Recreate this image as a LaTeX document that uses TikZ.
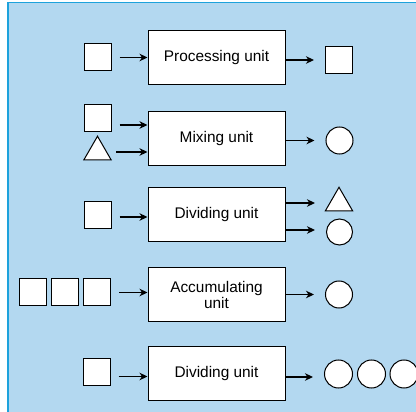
\documentclass[tikz,border=0pt]{standalone}
\usepackage{fontspec}
\setmainfont{Liberation Sans}
\usepackage{tikz}
\usetikzlibrary{
  arrows.meta,
  positioning,
  shapes.geometric,
  calc
}
\definecolor{panelbg}{HTML}{B3D8F0}
\definecolor{panelline}{HTML}{1DA2DC}
\definecolor{textdark}{HTML}{000000}
\tikzset{
  unitbox/.style={
    draw=textdark, fill=white, line width=1pt,
    minimum width=137pt, minimum height=54pt,
    inner sep=0pt, align=center,
    font=\fontsize{15.4}{16}\selectfont,
  },
  token/.style={
    draw=textdark, fill=white, line width=1pt,
    minimum size=27pt, inner sep=0pt,
  },
  ring/.style={
    circle, draw=textdark, fill=white, line width=1pt,
    minimum size=27pt, inner sep=0pt,
  },
  wedge/.style={
    regular polygon, regular polygon sides=3,
    draw=textdark, fill=white, line width=1pt,
    minimum size=31.5pt, inner sep=0pt,
  },
  flow/.style={
    -{Stealth[length=8pt,width=7.5pt,inset=2.5pt]}, line width=1.2pt,
  },
}

\begin{document}
\begin{tikzpicture}[x=1pt,y=-1pt]

  % ─── Panel ───────────────────────────────────────────────────────────
  \useasboundingbox (0,0) rectangle (416,412);
  \fill[panelbg] (7,2) rectangle (416,412);
  \draw[panelline, line width=1.5pt] (7.75,412) -- (7.75,2.75) -- (416,2.75);

  % ─── Processing unit ─────────────────────────────────────────────────
  \node[unitbox] (proc) at (216.5,58) {Processing unit};
  \node[token] (procIn) at (97.5,57.5) {};
  \node[token] (procOut) at (339,60) {};
  \draw[flow] ([xshift=8pt]procIn.east) -- (procIn.east -| proc.west);
  \draw[flow] (proc.east |- procOut) -- ([xshift=-11pt]procOut.west);

  % ─── Mixing unit ─────────────────────────────────────────────────────
  \node[unitbox] (mix) at (216.5,138.5) {Mixing unit};
  \node[token] (mixInA) at (97.5,118) {};
  \node[wedge] (mixInB) at (97.5,152) {};
  \node[ring] (mixOut) at (339.5,140.5) {};
  \coordinate (mixA) at ($(mixInA.east)+(8,7)$);
  \draw[flow] (mixA) -- (mixA -| mix.west);
  \draw[flow] (mixInB.east |- mixInB.center) ++(9,0) coordinate (mixB)
    -- (mixB -| mix.west);
  \draw[flow] (mix.east |- mixOut) -- ([xshift=-11pt]mixOut.west);

  % ─── Dividing unit (two outputs) ─────────────────────────────────────
  \node[unitbox] (divA) at (216.5,215) {Dividing unit};
  \node[token] (divAIn) at (97.5,215) {};
  \node[wedge] (divAOutT) at (339,203) {};
  \node[ring, minimum size=26pt] (divAOutC) at (339.5,232) {};
  \coordinate (divAS) at ($(divAIn.east)+(8,2)$);
  \draw[flow] (divAS) -- (divAS -| divA.west);
  \draw[flow] (divA.east |- divAOutT) -- ([xshift=-11pt]divAOutT.center -| divAOutC.west);
  \draw[flow] ([yshift=2pt]divA.east |- divAOutC) -- ([yshift=2pt,xshift=-11pt]divAOutC.west);

  % ─── Accumulating unit ───────────────────────────────────────────────
  \node[unitbox] (acc) at (216.5,295) {Accumulating\\unit};
  \node[token] (accIn1) at (32.5,292.5) {};
  \node[token] (accIn2) at (64.5,292.5) {};
  \node[token] (accIn3) at (97,292.5) {};
  \node[ring] (accOut) at (339,294.5) {};
  \draw[flow] ([xshift=8pt]accIn3.east) -- (accIn3.east -| acc.west);
  \draw[flow] (acc.east |- accOut) -- ([xshift=-11pt]accOut.west);

  % ─── Dividing unit (three outputs) ───────────────────────────────────
  \node[unitbox] (divB) at (216.5,373.5) {Dividing unit};
  \node[token] (divBIn) at (96.5,371.5) {};
  \node[ring, minimum size=28pt] (divBOut1) at (338.5,374) {};
  \node[ring, minimum size=28pt] (divBOut2) at (371.5,374) {};
  \node[ring, minimum size=28pt] (divBOut3) at (404,374) {};
  \coordinate (divBS) at ($(divBIn.east)+(8,5)$);
  \draw[flow] (divBS) -- (divBS -| divB.west);
  \draw[flow] ([yshift=-3pt]divB.east |- divBOut1) -- ([yshift=-3pt,xshift=-11pt]divBOut1.west);

\end{tikzpicture}
\end{document}
